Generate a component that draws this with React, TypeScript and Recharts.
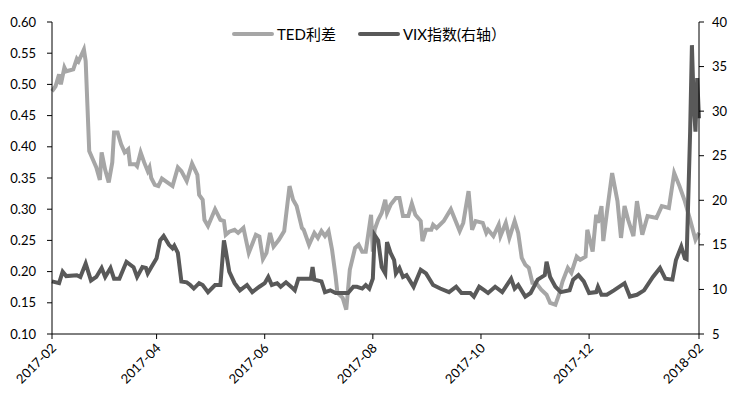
import React from 'react';
import { LineChart, Line, XAxis, YAxis } from 'recharts';

// days since 2017-02-01
const tedDays = [
  0, 2, 4, 5, 7, 8, 12, 14, 15, 18, 19, 20, 21, 23, 25, 27, 28, 30, 32, 34, 35, 37, 39, 41, 43, 44, 47, 48, 50, 52,
  54, 55, 56, 58, 60, 62, 68, 71, 73, 76, 79, 82, 83, 85, 86, 88, 92, 95, 97, 98, 100, 103, 105, 108, 111, 115, 117,
  119, 121, 123, 125, 128, 131, 134, 136, 138, 141, 142, 145, 148, 150, 152, 154, 156, 158, 160, 161, 164, 166, 168,
  171, 173, 175, 177, 180, 181, 182, 184, 186, 188, 189, 191, 194, 196, 198, 201, 203, 205, 208, 209, 211, 214, 215,
  217, 221, 225, 230, 232, 235, 237, 239, 243, 245, 246, 249, 252, 253, 256, 258, 261, 263, 265, 267, 269, 271, 273,
  276, 279, 281, 284, 286, 288, 291, 293, 296, 298, 301, 302, 305, 307, 308, 310, 311, 313, 316, 319, 321, 323, 325,
  328, 330, 333, 336, 341, 344, 348, 351, 354, 357, 360, 363, 365,
];
const tedValues = [
  0.489, 0.497, 0.516, 0.5, 0.527, 0.521, 0.524, 0.541, 0.537, 0.556, 0.537, 0.465, 0.393, 0.38, 0.367, 0.347, 0.391,
  0.363, 0.343, 0.375, 0.423, 0.423, 0.404, 0.391, 0.396, 0.372, 0.372, 0.369, 0.391, 0.375, 0.361, 0.367, 0.35,
  0.339, 0.337, 0.349, 0.337, 0.367, 0.361, 0.345, 0.373, 0.355, 0.323, 0.315, 0.283, 0.273, 0.3, 0.283, 0.281, 0.259,
  0.264, 0.267, 0.262, 0.27, 0.23, 0.259, 0.256, 0.22, 0.23, 0.262, 0.24, 0.251, 0.265, 0.337, 0.315, 0.305, 0.27,
  0.267, 0.243, 0.262, 0.254, 0.265, 0.257, 0.265, 0.235, 0.192, 0.166, 0.158, 0.139, 0.203, 0.238, 0.243, 0.232,
  0.232, 0.291, 0.232, 0.267, 0.283, 0.294, 0.315, 0.294, 0.307, 0.318, 0.318, 0.289, 0.289, 0.309, 0.291, 0.281,
  0.249, 0.267, 0.267, 0.275, 0.27, 0.281, 0.3, 0.265, 0.278, 0.329, 0.267, 0.281, 0.278, 0.262, 0.267, 0.257, 0.275,
  0.257, 0.278, 0.254, 0.281, 0.262, 0.222, 0.211, 0.206, 0.182, 0.182, 0.171, 0.163, 0.15, 0.147, 0.163, 0.184,
  0.206, 0.198, 0.224, 0.219, 0.224, 0.267, 0.232, 0.291, 0.278, 0.305, 0.249, 0.294, 0.358, 0.313, 0.254, 0.305,
  0.283, 0.257, 0.313, 0.259, 0.289, 0.286, 0.305, 0.302, 0.358, 0.337, 0.313, 0.283, 0.251, 0.262,
];

const vixDays = [
  0, 4, 6, 8, 14, 16, 19, 22, 25, 28, 30, 33, 35, 38, 42, 46, 48, 51, 53, 54, 56, 59, 61, 63, 66, 68, 69, 71, 73, 76,
  78, 80, 83, 85, 88, 92, 95, 97, 98, 100, 103, 106, 110, 113, 117, 120, 122, 124, 127, 129, 132, 136, 137, 139, 146,
  147, 148, 152, 154, 157, 160, 167, 170, 172, 175, 177, 179, 181, 182, 184, 186, 188, 189, 191, 193, 194, 196, 198,
  200, 204, 208, 211, 215, 219, 224, 228, 231, 236, 238, 241, 244, 246, 250, 254, 259, 261, 263, 267, 270, 274, 278,
  279, 281, 284, 287, 292, 294, 297, 300, 303, 307, 308, 310, 313, 317, 323, 326, 330, 334, 339, 343, 346, 350, 352,
  355, 357, 358, 360, 361, 362, 363, 364, 365,
];
const vixValues = [
  10.9, 10.7, 12.0, 11.5, 11.6, 11.4, 12.9, 11.0, 11.4, 12.4, 11.4, 12.4, 11.2, 11.2, 13.1, 12.5, 11.4, 12.5, 12.4,
  11.8, 12.5, 13.5, 15.5, 16.0, 15.0, 14.6, 14.9, 14.1, 10.9, 10.8, 10.5, 10.1, 10.7, 10.5, 9.7, 10.5, 10.5, 15.5,
  14.4, 12.0, 10.7, 9.9, 10.5, 9.7, 10.3, 10.7, 11.4, 10.5, 10.7, 10.3, 10.8, 10.1, 9.9, 11.2, 11.2, 12.5, 11.1, 10.9,
  9.7, 9.9, 9.6, 9.6, 10.3, 10.3, 10.1, 10.5, 10.1, 11.2, 16.1, 15.5, 12.5, 11.8, 15.3, 14.1, 13.3, 11.8, 12.4, 11.4,
  11.6, 10.3, 12.2, 11.8, 10.5, 10.1, 9.7, 10.3, 9.6, 9.6, 9.2, 10.3, 9.9, 9.6, 10.3, 9.7, 11.2, 10.1, 10.5, 9.2, 9.6,
  11.1, 11.6, 13.1, 11.4, 10.3, 9.7, 9.9, 11.1, 11.6, 10.9, 9.6, 9.7, 10.3, 9.4, 9.4, 9.9, 10.7, 9.2, 9.4, 9.9, 11.4,
  12.4, 11.2, 11.1, 13.3, 14.8, 13.5, 13.4, 27.7, 37.4, 30.9, 27.7, 33.7, 29.2,
];

const xTickDays = [0, 59, 120, 181, 242, 303, 365];
const xTickLabels = ['2017-02', '2017-04', '2017-06', '2017-08', '2017-10', '2017-12', '2018-02'];
const leftTicks = [0.1, 0.15, 0.2, 0.25, 0.3, 0.35, 0.4, 0.45, 0.5, 0.55, 0.6];
const rightTicks = [5, 10, 15, 20, 25, 30, 35, 40];

const FONT = "Lato, 'Noto Sans CJK SC', sans-serif";
const TED_COLOR = '#a6a6a6';
const VIX_COLOR = '#595959';

const tedData = tedDays.map((d, i) => ({ d, v: tedValues[i] }));
const vixData = vixDays.map((d, i) => ({ d, v: vixValues[i] }));

const XTick = (props: any) => {
  const { x, y, payload } = props;
  const idx = xTickDays.indexOf(payload.value);
  const tx = x + 5;
  const ty = y + 8;
  return (
    <text
      x={tx}
      y={ty}
      transform={`rotate(-45 ${tx} ${ty})`}
      textAnchor="end"
      fontSize={13}
      fontFamily={FONT}
      fill="#000"
    >
      {idx >= 0 ? xTickLabels[idx] : ''}
    </text>
  );
};

const LegendItem = ({ color, label }: { color: string; label: string }) => (
  <div style={{ display: 'flex', alignItems: 'center', marginRight: 22 }}>
    <div style={{ width: 42, height: 4, borderRadius: 2, background: color, marginRight: 3 }} />
    <span>{label}</span>
  </div>
);

const App: React.FC = () => {
  return (
    <div style={{ position: 'absolute', left: 0, top: 0, width: 734, height: 398, background: '#fff' }}>
      <LineChart width={734} height={398} margin={{ top: 22, right: 0, bottom: 0, left: 0 }}>
        <XAxis
          dataKey="d"
          type="number"
          domain={[0, 365]}
          ticks={xTickDays}
          tick={<XTick />}
          tickSize={5}
          tickMargin={2}
          height={64}
          stroke="#000"
          allowDuplicatedCategory={false}
        />
        <YAxis
          yAxisId="left"
          domain={[0.1, 0.6]}
          ticks={leftTicks}
          tickFormatter={(v: number) => v.toFixed(2)}
          width={52}
          tickSize={5}
          tickMargin={11}
          stroke="#000"
          tick={{ fill: '#000', fontSize: 13, fontFamily: FONT }}
        />
        <YAxis
          yAxisId="right"
          orientation="right"
          domain={[5, 40]}
          ticks={rightTicks}
          width={35}
          tickSize={5}
          tickMargin={8}
          stroke="#000"
          tick={{ fill: '#000', fontSize: 13, fontFamily: FONT }}
        />
        <Line
          yAxisId="left"
          data={tedData}
          dataKey="v"
          type="linear"
          stroke={TED_COLOR}
          strokeWidth={4}
          dot={false}
          isAnimationActive={false}
          name="TED利差"
        />
        <Line
          yAxisId="right"
          data={vixData}
          dataKey="v"
          type="linear"
          stroke={VIX_COLOR}
          strokeWidth={4}
          dot={false}
          isAnimationActive={false}
          name="VIX指数(右轴）"
        />
      </LineChart>
      <div
        style={{
          position: 'absolute',
          top: 23,
          left: 232,
          display: 'flex',
          fontSize: 15,
          fontFamily: FONT,
          color: '#000',
        }}
      >
        <LegendItem color={TED_COLOR} label="TED利差" />
        <LegendItem color={VIX_COLOR} label="VIX指数(右轴）" />
      </div>
    </div>
  );
};

export default App;
